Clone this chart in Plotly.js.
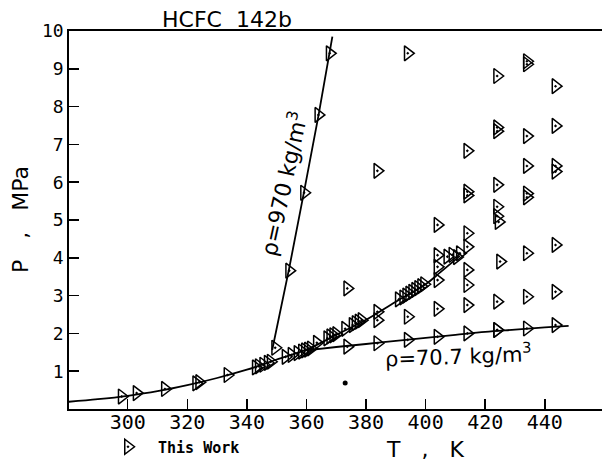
<!DOCTYPE html>
<html>
<head>
<meta charset="utf-8">
<script src="https://cdn.plot.ly/plotly-3.0.1.min.js"></script>
<style>html,body{margin:0;padding:0;background:#fff;}#chart{width:602px;height:465px;}</style>
</head>
<body>
<div id="chart"></div>
<script>
// Measured points (T in K, P in MPa) - "This Work"
const ptT = [298, 303, 312.5, 323, 324, 333.5, 343, 344, 345.5, 347, 348,
  349.5, 354.2, 359.2, 364, 367.8,
  353, 355, 357, 358.5, 359.5, 360.5, 361.5,
  363.5, 367, 368, 369, 370,
  373, 375.5, 376.5, 377.5, 378.5,
  383.8, 383.8, 383.8, 383.8,
  373.7, 373.7,
  391, 392.5, 393.5, 394.5, 395.5, 396.5, 397.5, 398.5, 399.5,
  394, 394, 394,
  404, 404, 404, 404, 404, 404, 407.3, 409, 410.5, 411.5,
  414, 414, 414, 414, 414, 414, 414, 414, 414,
  424, 424, 424, 424, 424, 424, 424.5, 425, 424, 424, 424,
  434, 434, 434, 434, 434, 434, 434, 434, 434,
  443.6, 443.6, 443.6, 443.6, 443.6, 443.6, 443.6];
const ptP = [0.33, 0.42, 0.53, 0.68, 0.71, 0.90, 1.10, 1.13, 1.17, 1.22, 1.25,
  1.62, 3.66, 5.72, 7.78, 9.41,
  1.38, 1.43, 1.48, 1.52, 1.55, 1.57, 1.60,
  1.75, 1.87, 1.92, 1.95, 1.98,
  2.12, 2.22, 2.27, 2.31, 2.35,
  6.30, 2.57, 2.35, 1.74,
  3.19, 1.65,
  2.90, 2.95, 3.00, 3.05, 3.10, 3.15, 3.20, 3.25, 3.30,
  9.41, 2.44, 1.83,
  4.87, 4.07, 3.76, 3.41, 2.65, 1.91, 4.03, 4.08, 4.02, 4.12,
  6.83, 5.75, 5.65, 4.65, 4.29, 3.68, 3.28, 2.75, 2.00,
  8.81, 7.45, 7.35, 5.93, 5.35, 5.10, 4.95, 3.90, 2.84, 2.09, 2.09,
  9.20, 9.12, 7.22, 6.43, 5.70, 5.60, 4.12, 2.97, 2.13,
  8.54, 7.49, 6.43, 6.28, 4.34, 3.10, 2.22];

// Saturation curve
const satT = [280, 290, 300, 310, 320, 330, 340, 350, 360, 370, 380, 390, 400, 405, 411.5];
const satP = [0.19, 0.26, 0.35, 0.47, 0.63, 0.82, 1.04, 1.31, 1.57, 1.96, 2.36, 2.84, 3.30, 3.62, 4.05];

// Isochore rho = 70.7 kg/m3
const isoLoT = [360, 370, 380, 390, 400, 410, 420, 430, 440, 448];
const isoLoP = [1.55, 1.64, 1.72, 1.80, 1.88, 1.96, 2.04, 2.10, 2.16, 2.20];

// Isochore rho = 970 kg/m3
const isoHiT = [348.5, 354.2, 359.2, 364, 368.7];
const isoHiP = [1.56, 3.72, 5.75, 7.75, 9.85];

// Stray blot on the original
const blotT = [373];
const blotP = [0.69];

const xTicks = [300, 320, 340, 360, 380, 400, 420, 440];
const yTicks = [1, 2, 3, 4, 5, 6, 7, 8, 9, 10];

const lineStyle = {color: '#000', width: 1.8};
const traces = [
  {x: satT, y: satP, mode: 'lines', line: Object.assign({shape: 'spline'}, lineStyle), showlegend: false, hoverinfo: 'skip'},
  {x: isoLoT, y: isoLoP, mode: 'lines', line: Object.assign({shape: 'spline'}, lineStyle), showlegend: false, hoverinfo: 'skip'},
  {x: isoHiT, y: isoHiP, mode: 'lines', line: lineStyle, showlegend: false, hoverinfo: 'skip'},
  {x: blotT, y: blotP, mode: 'markers', marker: {symbol: 'circle', size: 5, color: '#000'}, showlegend: false, hoverinfo: 'skip'},
  {x: ptT, y: ptP, mode: 'markers', name: 'This Work',
   marker: {symbol: 'triangle-right-open-dot', size: 13, color: '#000', line: {color: '#000', width: 1.5}}}
];

const sansFont = {family: 'DejaVu Sans', size: 21, color: '#000'};

const layout = {
  width: 602, height: 465,
  margin: {l: 69, r: 0, t: 31, b: 56, pad: 0},
  paper_bgcolor: '#fff', plot_bgcolor: '#fff',
  showlegend: true,
  legend: {x: (98-69)/533, y: -(447-409)/378, xref: 'paper', yref: 'paper', xanchor: 'left', yanchor: 'middle',
           itemwidth: 50, borderwidth: 0,
           font: {family: 'DejaVu Sans Mono', size: 15, color: '#000', weight: 'bold'}, bgcolor: 'rgba(0,0,0,0)'},
  xaxis: {range: [280.3, 459.2], tickvals: xTicks, ticktext: xTicks.map(String), ticks: 'inside', ticklen: 10,
          tickwidth: 1.5, tickcolor: '#000', showline: true, linecolor: '#000', linewidth: 1.8, mirror: true,
          showgrid: false, zeroline: false, tickfont: {family: 'DejaVu Sans Mono', size: 20, color: '#000'},
          ticklabelstandoff: -6, automargin: false},
  yaxis: {range: [0, 10], tickvals: yTicks, ticktext: yTicks.map(String), ticks: 'inside', ticklen: 10,
          tickwidth: 1.5, tickcolor: '#000', showline: true, linecolor: '#000', linewidth: 1.8, mirror: false,
          showgrid: false, zeroline: false, tickfont: {family: 'DejaVu Sans Mono', size: 18, color: '#000'},
          ticklabelstandoff: 0, automargin: false},
  annotations: [
    {text: 'HCFC  142b', xref: 'paper', yref: 'paper', x: (227-69)/533, y: 1 + 12/378, xanchor: 'center', yanchor: 'middle',
     showarrow: false, font: {family: 'DejaVu Sans', size: 22, color: '#000'}},
    {text: 'P   ,   MPa', xref: 'paper', yref: 'paper', x: -49/533, y: 0.5, xanchor: 'center', yanchor: 'middle',
     textangle: -90, showarrow: false, font: {family: 'DejaVu Sans', size: 22, color: '#000'}},
    {text: 'T   ,   K', xref: 'paper', yref: 'paper', x: (425-69)/533, y: -41/378, xanchor: 'center', yanchor: 'middle',
     showarrow: false, font: {family: 'DejaVu Sans', size: 22, color: '#000'}},
    {text: 'ρ=970 kg/m<sup>3</sup>', xref: 'x', yref: 'y', x: 352.1, y: 5.98, xanchor: 'center', yanchor: 'middle',
     textangle: -77.5, showarrow: false, font: {family: 'DejaVu Sans', size: 22, color: '#000'}},
    {text: 'ρ=70.7 kg/m<sup>3</sup>', xref: 'x', yref: 'y', x: 411.2, y: 1.43, xanchor: 'center', yanchor: 'middle',
     textangle: -2, showarrow: false, font: sansFont}
  ]
};

Plotly.newPlot('chart', traces, layout, {staticPlot: true, displayModeBar: false});
</script>
</body>
</html>
